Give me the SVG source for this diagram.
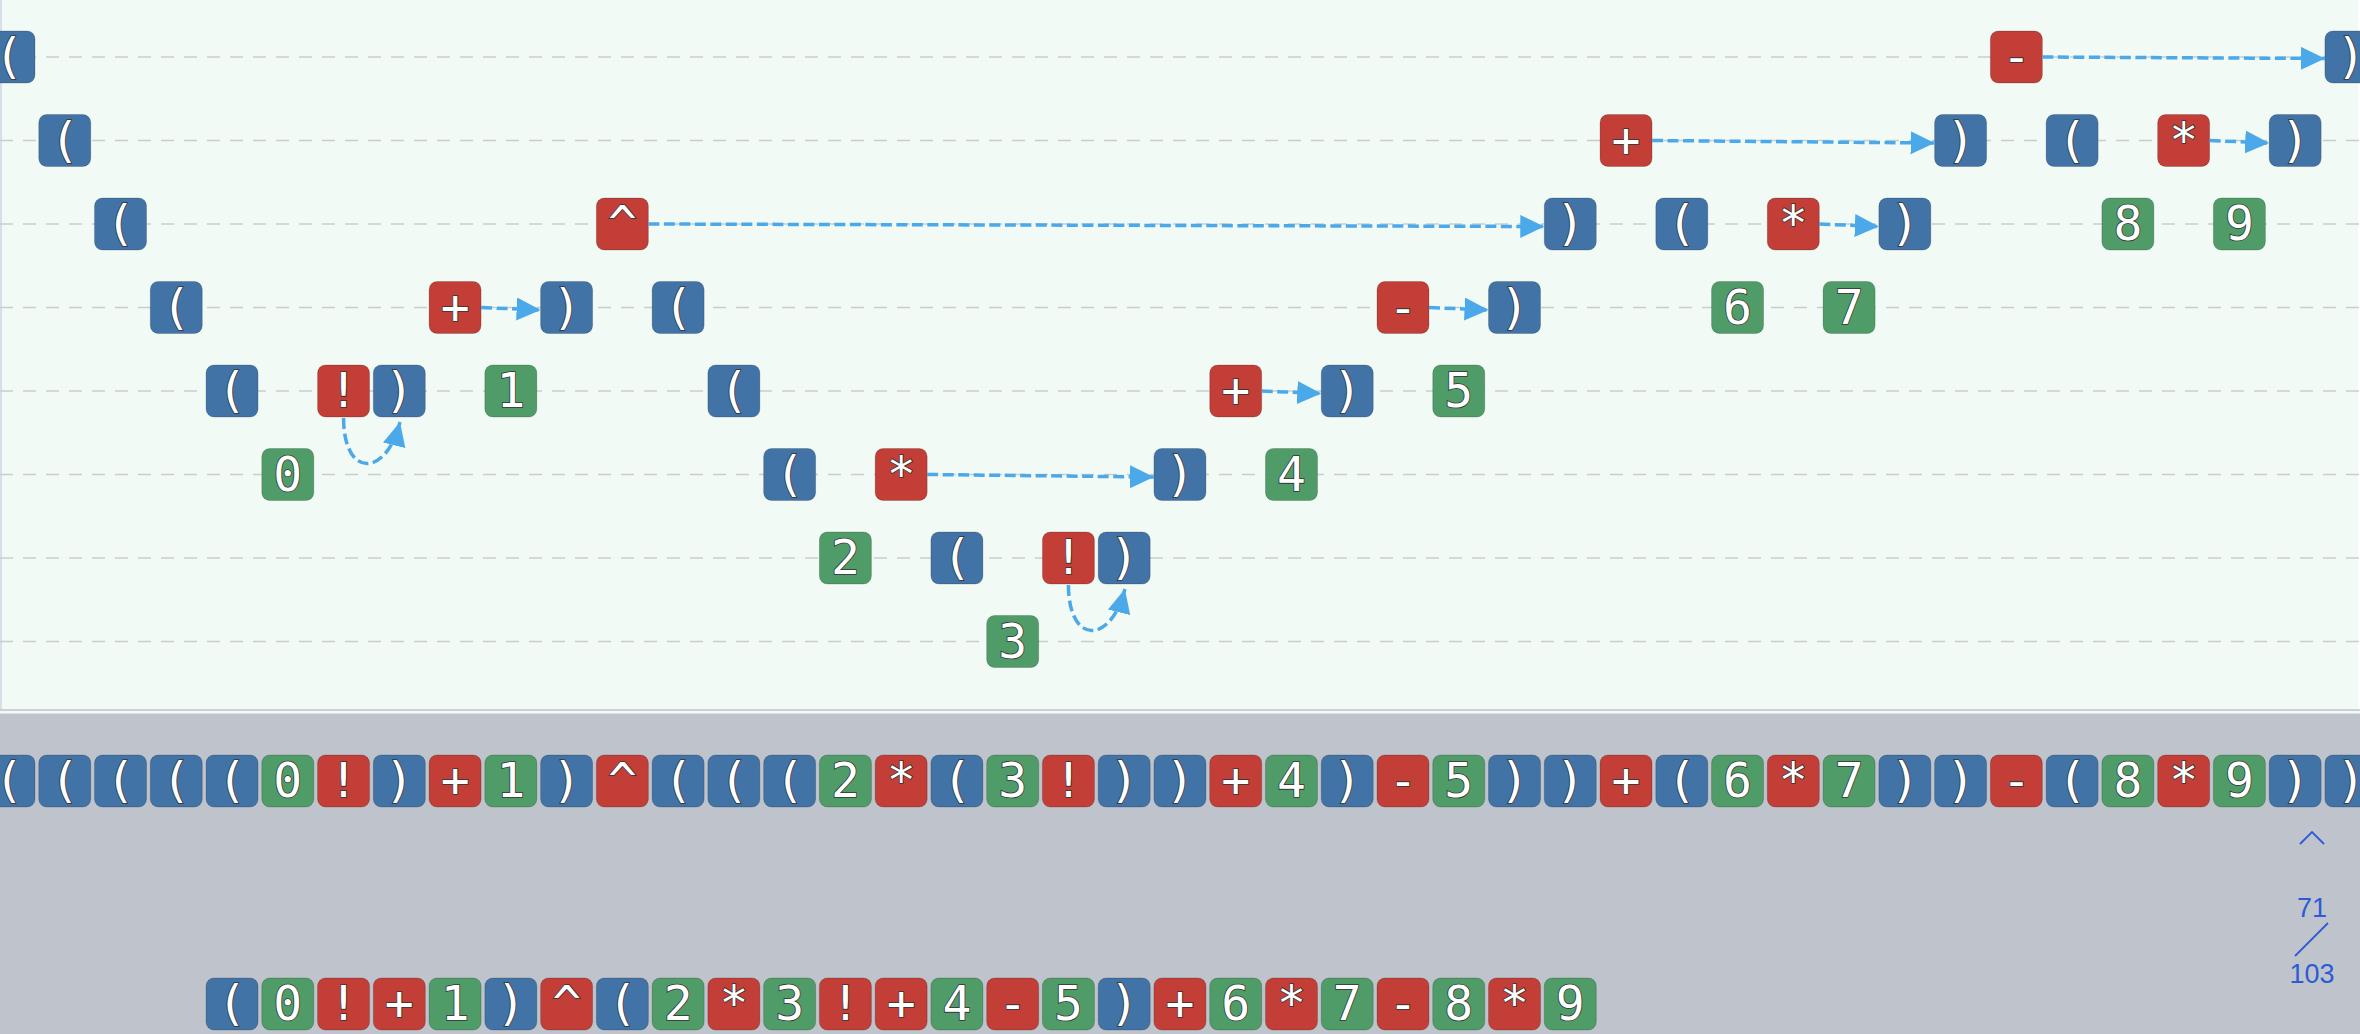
<svg xmlns="http://www.w3.org/2000/svg" xmlns:xlink="http://www.w3.org/1999/xlink" width="2360" height="1034" viewBox="0 0 2360 1034">
<style>
.b{fill:#4273A6}
.r{fill:#C23E37}
.g{fill:#4F9C68}
.n rect{stroke:rgba(0,0,0,0.18);stroke-width:1}
.n text{font-family:"DejaVu Sans Mono","Liberation Mono",monospace;font-size:48px;fill:#fff;stroke:#333;stroke-width:1.6;paint-order:stroke fill;text-anchor:middle}
.grid line{stroke:#C9CECD;stroke-width:1.5;stroke-dasharray:13 10}
.conn path{fill:none;stroke:#4BA9E9;stroke-width:3.5;stroke-dasharray:11 4.5}
.cnt{font-family:"Liberation Sans",Arial,sans-serif;font-size:27px;fill:#2D5BD6;text-anchor:middle}
</style>
<defs>
<marker id="ah" markerUnits="userSpaceOnUse" markerWidth="26" markerHeight="24" refX="24" refY="11.5" orient="auto">
<path d="M0,0 L24,11.5 L0,23 z" fill="#4BA9E9"/>
</marker>
</defs>
<rect x="0" y="0" width="2360" height="709" fill="#F1FAF5"/>
<line x1="1" y1="0" x2="1" y2="709" stroke="#D6E0E8" stroke-width="2"/>
<line x1="2359" y1="0" x2="2359" y2="709" stroke="#FFFFFF" stroke-width="2"/>
<line x1="0" y1="710" x2="2360" y2="710" stroke="#CCD1D3" stroke-width="2"/>
<rect x="0" y="711" width="2360" height="2.5" fill="#F4F6F7"/>
<rect x="0" y="713.5" width="2360" height="320.5" fill="#BFC4CC"/>
<g class="grid">
<line x1="0" y1="57" x2="2360" y2="57"/>
<line x1="0" y1="140.5" x2="2360" y2="140.5"/>
<line x1="0" y1="224" x2="2360" y2="224"/>
<line x1="0" y1="307.5" x2="2360" y2="307.5"/>
<line x1="0" y1="391" x2="2360" y2="391"/>
<line x1="0" y1="474.5" x2="2360" y2="474.5"/>
<line x1="0" y1="558" x2="2360" y2="558"/>
<line x1="0" y1="641.5" x2="2360" y2="641.5"/>
</g>
<g id="tree">
<g id="t0" class="n" transform="translate(9,57)"><rect class="b" x="-26" y="-26" width="52" height="52" rx="8"/><text y="16">(</text></g>
<g id="t1" class="n" transform="translate(64.76,140.5)"><rect class="b" x="-26" y="-26" width="52" height="52" rx="8"/><text y="16">(</text></g>
<g id="t2" class="n" transform="translate(120.52,224)"><rect class="b" x="-26" y="-26" width="52" height="52" rx="8"/><text y="16">(</text></g>
<g id="t3" class="n" transform="translate(176.28,307.5)"><rect class="b" x="-26" y="-26" width="52" height="52" rx="8"/><text y="16">(</text></g>
<g id="t4" class="n" transform="translate(232.04,391)"><rect class="b" x="-26" y="-26" width="52" height="52" rx="8"/><text y="16">(</text></g>
<g id="t5" class="n" transform="translate(287.8,474.5)"><rect class="g" x="-26" y="-26" width="52" height="52" rx="8"/><text y="16">0</text></g>
<g id="t6" class="n" transform="translate(343.56,391)"><rect class="r" x="-26" y="-26" width="52" height="52" rx="8"/><text y="16">!</text></g>
<g id="t7" class="n" transform="translate(399.32,391)"><rect class="b" x="-26" y="-26" width="52" height="52" rx="8"/><text y="16">)</text></g>
<g id="t8" class="n" transform="translate(455.08,307.5)"><rect class="r" x="-26" y="-26" width="52" height="52" rx="8"/><text y="16">+</text></g>
<g id="t9" class="n" transform="translate(510.84,391)"><rect class="g" x="-26" y="-26" width="52" height="52" rx="8"/><text y="16">1</text></g>
<g id="t10" class="n" transform="translate(566.6,307.5)"><rect class="b" x="-26" y="-26" width="52" height="52" rx="8"/><text y="16">)</text></g>
<g id="t11" class="n" transform="translate(622.36,224)"><rect class="r" x="-26" y="-26" width="52" height="52" rx="8"/><text y="16">^</text></g>
<g id="t12" class="n" transform="translate(678.12,307.5)"><rect class="b" x="-26" y="-26" width="52" height="52" rx="8"/><text y="16">(</text></g>
<g id="t13" class="n" transform="translate(733.88,391)"><rect class="b" x="-26" y="-26" width="52" height="52" rx="8"/><text y="16">(</text></g>
<g id="t14" class="n" transform="translate(789.64,474.5)"><rect class="b" x="-26" y="-26" width="52" height="52" rx="8"/><text y="16">(</text></g>
<g id="t15" class="n" transform="translate(845.4,558)"><rect class="g" x="-26" y="-26" width="52" height="52" rx="8"/><text y="16">2</text></g>
<g id="t16" class="n" transform="translate(901.16,474.5)"><rect class="r" x="-26" y="-26" width="52" height="52" rx="8"/><text y="16">*</text></g>
<g id="t17" class="n" transform="translate(956.92,558)"><rect class="b" x="-26" y="-26" width="52" height="52" rx="8"/><text y="16">(</text></g>
<g id="t18" class="n" transform="translate(1012.68,641.5)"><rect class="g" x="-26" y="-26" width="52" height="52" rx="8"/><text y="16">3</text></g>
<g id="t19" class="n" transform="translate(1068.44,558)"><rect class="r" x="-26" y="-26" width="52" height="52" rx="8"/><text y="16">!</text></g>
<g id="t20" class="n" transform="translate(1124.2,558)"><rect class="b" x="-26" y="-26" width="52" height="52" rx="8"/><text y="16">)</text></g>
<g id="t21" class="n" transform="translate(1179.96,474.5)"><rect class="b" x="-26" y="-26" width="52" height="52" rx="8"/><text y="16">)</text></g>
<g id="t22" class="n" transform="translate(1235.72,391)"><rect class="r" x="-26" y="-26" width="52" height="52" rx="8"/><text y="16">+</text></g>
<g id="t23" class="n" transform="translate(1291.48,474.5)"><rect class="g" x="-26" y="-26" width="52" height="52" rx="8"/><text y="16">4</text></g>
<g id="t24" class="n" transform="translate(1347.24,391)"><rect class="b" x="-26" y="-26" width="52" height="52" rx="8"/><text y="16">)</text></g>
<g id="t25" class="n" transform="translate(1403,307.5)"><rect class="r" x="-26" y="-26" width="52" height="52" rx="8"/><text y="16">-</text></g>
<g id="t26" class="n" transform="translate(1458.76,391)"><rect class="g" x="-26" y="-26" width="52" height="52" rx="8"/><text y="16">5</text></g>
<g id="t27" class="n" transform="translate(1514.52,307.5)"><rect class="b" x="-26" y="-26" width="52" height="52" rx="8"/><text y="16">)</text></g>
<g id="t28" class="n" transform="translate(1570.28,224)"><rect class="b" x="-26" y="-26" width="52" height="52" rx="8"/><text y="16">)</text></g>
<g id="t29" class="n" transform="translate(1626.04,140.5)"><rect class="r" x="-26" y="-26" width="52" height="52" rx="8"/><text y="16">+</text></g>
<g id="t30" class="n" transform="translate(1681.8,224)"><rect class="b" x="-26" y="-26" width="52" height="52" rx="8"/><text y="16">(</text></g>
<g id="t31" class="n" transform="translate(1737.56,307.5)"><rect class="g" x="-26" y="-26" width="52" height="52" rx="8"/><text y="16">6</text></g>
<g id="t32" class="n" transform="translate(1793.32,224)"><rect class="r" x="-26" y="-26" width="52" height="52" rx="8"/><text y="16">*</text></g>
<g id="t33" class="n" transform="translate(1849.08,307.5)"><rect class="g" x="-26" y="-26" width="52" height="52" rx="8"/><text y="16">7</text></g>
<g id="t34" class="n" transform="translate(1904.84,224)"><rect class="b" x="-26" y="-26" width="52" height="52" rx="8"/><text y="16">)</text></g>
<g id="t35" class="n" transform="translate(1960.6,140.5)"><rect class="b" x="-26" y="-26" width="52" height="52" rx="8"/><text y="16">)</text></g>
<g id="t36" class="n" transform="translate(2016.36,57)"><rect class="r" x="-26" y="-26" width="52" height="52" rx="8"/><text y="16">-</text></g>
<g id="t37" class="n" transform="translate(2072.12,140.5)"><rect class="b" x="-26" y="-26" width="52" height="52" rx="8"/><text y="16">(</text></g>
<g id="t38" class="n" transform="translate(2127.88,224)"><rect class="g" x="-26" y="-26" width="52" height="52" rx="8"/><text y="16">8</text></g>
<g id="t39" class="n" transform="translate(2183.64,140.5)"><rect class="r" x="-26" y="-26" width="52" height="52" rx="8"/><text y="16">*</text></g>
<g id="t40" class="n" transform="translate(2239.4,224)"><rect class="g" x="-26" y="-26" width="52" height="52" rx="8"/><text y="16">9</text></g>
<g id="t41" class="n" transform="translate(2295.16,140.5)"><rect class="b" x="-26" y="-26" width="52" height="52" rx="8"/><text y="16">)</text></g>
<g id="t42" class="n" transform="translate(2350.92,57)"><rect class="b" x="-26" y="-26" width="52" height="52" rx="8"/><text y="16">)</text></g>
</g>
<g id="connectors" class="conn">
<path d="M343.56,418 C343.56,478 386,478 400,422" marker-end="url(#ah)"/>
<path d="M481.08,307.5 L540.6,310" marker-end="url(#ah)"/>
<path d="M648.36,224 L1544.28,226.5" marker-end="url(#ah)"/>
<path d="M927.16,474.5 L1153.96,477" marker-end="url(#ah)"/>
<path d="M1068.44,585 C1068.44,645 1110.88,645 1124.88,589" marker-end="url(#ah)"/>
<path d="M1261.72,391 L1321.24,393.5" marker-end="url(#ah)"/>
<path d="M1429,307.5 L1488.52,310" marker-end="url(#ah)"/>
<path d="M1652.04,140.5 L1934.6,143" marker-end="url(#ah)"/>
<path d="M1819.32,224 L1878.84,226.5" marker-end="url(#ah)"/>
<path d="M2042.36,57 L2324.92,58.5" marker-end="url(#ah)"/>
<path d="M2209.64,140.5 L2269.16,143" marker-end="url(#ah)"/>
</g>
<g id="strip">
<g id="s0" class="n" transform="translate(9,781)"><rect class="b" x="-26" y="-26" width="52" height="52" rx="8"/><text y="16">(</text></g>
<g id="s1" class="n" transform="translate(64.76,781)"><rect class="b" x="-26" y="-26" width="52" height="52" rx="8"/><text y="16">(</text></g>
<g id="s2" class="n" transform="translate(120.52,781)"><rect class="b" x="-26" y="-26" width="52" height="52" rx="8"/><text y="16">(</text></g>
<g id="s3" class="n" transform="translate(176.28,781)"><rect class="b" x="-26" y="-26" width="52" height="52" rx="8"/><text y="16">(</text></g>
<g id="s4" class="n" transform="translate(232.04,781)"><rect class="b" x="-26" y="-26" width="52" height="52" rx="8"/><text y="16">(</text></g>
<g id="s5" class="n" transform="translate(287.8,781)"><rect class="g" x="-26" y="-26" width="52" height="52" rx="8"/><text y="16">0</text></g>
<g id="s6" class="n" transform="translate(343.56,781)"><rect class="r" x="-26" y="-26" width="52" height="52" rx="8"/><text y="16">!</text></g>
<g id="s7" class="n" transform="translate(399.32,781)"><rect class="b" x="-26" y="-26" width="52" height="52" rx="8"/><text y="16">)</text></g>
<g id="s8" class="n" transform="translate(455.08,781)"><rect class="r" x="-26" y="-26" width="52" height="52" rx="8"/><text y="16">+</text></g>
<g id="s9" class="n" transform="translate(510.84,781)"><rect class="g" x="-26" y="-26" width="52" height="52" rx="8"/><text y="16">1</text></g>
<g id="s10" class="n" transform="translate(566.6,781)"><rect class="b" x="-26" y="-26" width="52" height="52" rx="8"/><text y="16">)</text></g>
<g id="s11" class="n" transform="translate(622.36,781)"><rect class="r" x="-26" y="-26" width="52" height="52" rx="8"/><text y="16">^</text></g>
<g id="s12" class="n" transform="translate(678.12,781)"><rect class="b" x="-26" y="-26" width="52" height="52" rx="8"/><text y="16">(</text></g>
<g id="s13" class="n" transform="translate(733.88,781)"><rect class="b" x="-26" y="-26" width="52" height="52" rx="8"/><text y="16">(</text></g>
<g id="s14" class="n" transform="translate(789.64,781)"><rect class="b" x="-26" y="-26" width="52" height="52" rx="8"/><text y="16">(</text></g>
<g id="s15" class="n" transform="translate(845.4,781)"><rect class="g" x="-26" y="-26" width="52" height="52" rx="8"/><text y="16">2</text></g>
<g id="s16" class="n" transform="translate(901.16,781)"><rect class="r" x="-26" y="-26" width="52" height="52" rx="8"/><text y="16">*</text></g>
<g id="s17" class="n" transform="translate(956.92,781)"><rect class="b" x="-26" y="-26" width="52" height="52" rx="8"/><text y="16">(</text></g>
<g id="s18" class="n" transform="translate(1012.68,781)"><rect class="g" x="-26" y="-26" width="52" height="52" rx="8"/><text y="16">3</text></g>
<g id="s19" class="n" transform="translate(1068.44,781)"><rect class="r" x="-26" y="-26" width="52" height="52" rx="8"/><text y="16">!</text></g>
<g id="s20" class="n" transform="translate(1124.2,781)"><rect class="b" x="-26" y="-26" width="52" height="52" rx="8"/><text y="16">)</text></g>
<g id="s21" class="n" transform="translate(1179.96,781)"><rect class="b" x="-26" y="-26" width="52" height="52" rx="8"/><text y="16">)</text></g>
<g id="s22" class="n" transform="translate(1235.72,781)"><rect class="r" x="-26" y="-26" width="52" height="52" rx="8"/><text y="16">+</text></g>
<g id="s23" class="n" transform="translate(1291.48,781)"><rect class="g" x="-26" y="-26" width="52" height="52" rx="8"/><text y="16">4</text></g>
<g id="s24" class="n" transform="translate(1347.24,781)"><rect class="b" x="-26" y="-26" width="52" height="52" rx="8"/><text y="16">)</text></g>
<g id="s25" class="n" transform="translate(1403,781)"><rect class="r" x="-26" y="-26" width="52" height="52" rx="8"/><text y="16">-</text></g>
<g id="s26" class="n" transform="translate(1458.76,781)"><rect class="g" x="-26" y="-26" width="52" height="52" rx="8"/><text y="16">5</text></g>
<g id="s27" class="n" transform="translate(1514.52,781)"><rect class="b" x="-26" y="-26" width="52" height="52" rx="8"/><text y="16">)</text></g>
<g id="s28" class="n" transform="translate(1570.28,781)"><rect class="b" x="-26" y="-26" width="52" height="52" rx="8"/><text y="16">)</text></g>
<g id="s29" class="n" transform="translate(1626.04,781)"><rect class="r" x="-26" y="-26" width="52" height="52" rx="8"/><text y="16">+</text></g>
<g id="s30" class="n" transform="translate(1681.8,781)"><rect class="b" x="-26" y="-26" width="52" height="52" rx="8"/><text y="16">(</text></g>
<g id="s31" class="n" transform="translate(1737.56,781)"><rect class="g" x="-26" y="-26" width="52" height="52" rx="8"/><text y="16">6</text></g>
<g id="s32" class="n" transform="translate(1793.32,781)"><rect class="r" x="-26" y="-26" width="52" height="52" rx="8"/><text y="16">*</text></g>
<g id="s33" class="n" transform="translate(1849.08,781)"><rect class="g" x="-26" y="-26" width="52" height="52" rx="8"/><text y="16">7</text></g>
<g id="s34" class="n" transform="translate(1904.84,781)"><rect class="b" x="-26" y="-26" width="52" height="52" rx="8"/><text y="16">)</text></g>
<g id="s35" class="n" transform="translate(1960.6,781)"><rect class="b" x="-26" y="-26" width="52" height="52" rx="8"/><text y="16">)</text></g>
<g id="s36" class="n" transform="translate(2016.36,781)"><rect class="r" x="-26" y="-26" width="52" height="52" rx="8"/><text y="16">-</text></g>
<g id="s37" class="n" transform="translate(2072.12,781)"><rect class="b" x="-26" y="-26" width="52" height="52" rx="8"/><text y="16">(</text></g>
<g id="s38" class="n" transform="translate(2127.88,781)"><rect class="g" x="-26" y="-26" width="52" height="52" rx="8"/><text y="16">8</text></g>
<g id="s39" class="n" transform="translate(2183.64,781)"><rect class="r" x="-26" y="-26" width="52" height="52" rx="8"/><text y="16">*</text></g>
<g id="s40" class="n" transform="translate(2239.4,781)"><rect class="g" x="-26" y="-26" width="52" height="52" rx="8"/><text y="16">9</text></g>
<g id="s41" class="n" transform="translate(2295.16,781)"><rect class="b" x="-26" y="-26" width="52" height="52" rx="8"/><text y="16">)</text></g>
<g id="s42" class="n" transform="translate(2350.92,781)"><rect class="b" x="-26" y="-26" width="52" height="52" rx="8"/><text y="16">)</text></g>
</g>
<g id="result">
<g id="e0" class="n" transform="translate(232.04,1004)"><rect class="b" x="-26" y="-26" width="52" height="52" rx="8"/><text y="16">(</text></g>
<g id="e1" class="n" transform="translate(287.8,1004)"><rect class="g" x="-26" y="-26" width="52" height="52" rx="8"/><text y="16">0</text></g>
<g id="e2" class="n" transform="translate(343.56,1004)"><rect class="r" x="-26" y="-26" width="52" height="52" rx="8"/><text y="16">!</text></g>
<g id="e3" class="n" transform="translate(399.32,1004)"><rect class="r" x="-26" y="-26" width="52" height="52" rx="8"/><text y="16">+</text></g>
<g id="e4" class="n" transform="translate(455.08,1004)"><rect class="g" x="-26" y="-26" width="52" height="52" rx="8"/><text y="16">1</text></g>
<g id="e5" class="n" transform="translate(510.84,1004)"><rect class="b" x="-26" y="-26" width="52" height="52" rx="8"/><text y="16">)</text></g>
<g id="e6" class="n" transform="translate(566.6,1004)"><rect class="r" x="-26" y="-26" width="52" height="52" rx="8"/><text y="16">^</text></g>
<g id="e7" class="n" transform="translate(622.36,1004)"><rect class="b" x="-26" y="-26" width="52" height="52" rx="8"/><text y="16">(</text></g>
<g id="e8" class="n" transform="translate(678.12,1004)"><rect class="g" x="-26" y="-26" width="52" height="52" rx="8"/><text y="16">2</text></g>
<g id="e9" class="n" transform="translate(733.88,1004)"><rect class="r" x="-26" y="-26" width="52" height="52" rx="8"/><text y="16">*</text></g>
<g id="e10" class="n" transform="translate(789.64,1004)"><rect class="g" x="-26" y="-26" width="52" height="52" rx="8"/><text y="16">3</text></g>
<g id="e11" class="n" transform="translate(845.4,1004)"><rect class="r" x="-26" y="-26" width="52" height="52" rx="8"/><text y="16">!</text></g>
<g id="e12" class="n" transform="translate(901.16,1004)"><rect class="r" x="-26" y="-26" width="52" height="52" rx="8"/><text y="16">+</text></g>
<g id="e13" class="n" transform="translate(956.92,1004)"><rect class="g" x="-26" y="-26" width="52" height="52" rx="8"/><text y="16">4</text></g>
<g id="e14" class="n" transform="translate(1012.68,1004)"><rect class="r" x="-26" y="-26" width="52" height="52" rx="8"/><text y="16">-</text></g>
<g id="e15" class="n" transform="translate(1068.44,1004)"><rect class="g" x="-26" y="-26" width="52" height="52" rx="8"/><text y="16">5</text></g>
<g id="e16" class="n" transform="translate(1124.2,1004)"><rect class="b" x="-26" y="-26" width="52" height="52" rx="8"/><text y="16">)</text></g>
<g id="e17" class="n" transform="translate(1179.96,1004)"><rect class="r" x="-26" y="-26" width="52" height="52" rx="8"/><text y="16">+</text></g>
<g id="e18" class="n" transform="translate(1235.72,1004)"><rect class="g" x="-26" y="-26" width="52" height="52" rx="8"/><text y="16">6</text></g>
<g id="e19" class="n" transform="translate(1291.48,1004)"><rect class="r" x="-26" y="-26" width="52" height="52" rx="8"/><text y="16">*</text></g>
<g id="e20" class="n" transform="translate(1347.24,1004)"><rect class="g" x="-26" y="-26" width="52" height="52" rx="8"/><text y="16">7</text></g>
<g id="e21" class="n" transform="translate(1403,1004)"><rect class="r" x="-26" y="-26" width="52" height="52" rx="8"/><text y="16">-</text></g>
<g id="e22" class="n" transform="translate(1458.76,1004)"><rect class="g" x="-26" y="-26" width="52" height="52" rx="8"/><text y="16">8</text></g>
<g id="e23" class="n" transform="translate(1514.52,1004)"><rect class="r" x="-26" y="-26" width="52" height="52" rx="8"/><text y="16">*</text></g>
<g id="e24" class="n" transform="translate(1570.28,1004)"><rect class="g" x="-26" y="-26" width="52" height="52" rx="8"/><text y="16">9</text></g>
</g>
<g id="counter">
<polyline points="2300,844 2312,832 2324,844" fill="none" stroke="#2D5BD6" stroke-width="1.8"/>
<text class="cnt" x="2312" y="917">71</text>
<line x1="2295" y1="956" x2="2328" y2="923" stroke="#2D5BD6" stroke-width="1.8"/>
<text class="cnt" x="2312" y="983">103</text>
</g>
</svg>
